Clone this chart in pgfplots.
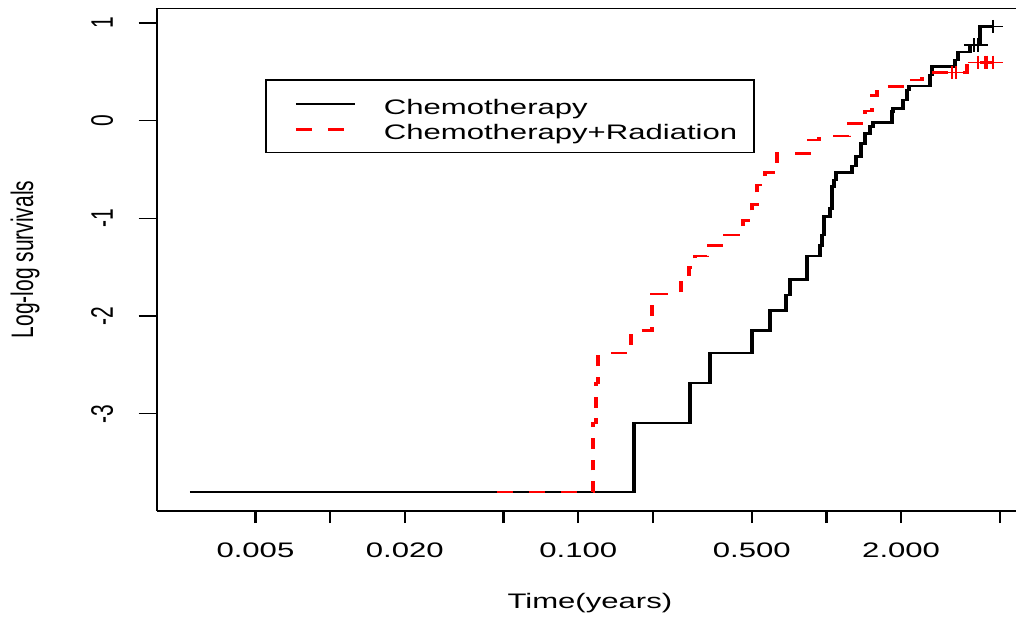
\documentclass[border=0pt]{standalone}
\usepackage{fontspec}
\setmainfont{Liberation Sans}
\usepackage{pgfplots}
\pgfplotsset{compat=1.18}
\newsavebox{\chartbox}

\begin{document}
\begin{lrbox}{\chartbox}%
\fontsize{10.5}{12.6}\selectfont
\begin{tikzpicture}
\begin{axis}[
    scale only axis, width=290.2pt, height=251.2pt,
    xmode=log, xmin=0.002004, xmax=5.807,
    ymin=-3.993, ymax=1.150,
    axis x line=box, axis y line*=left,
    y axis line style={-},
    axis line style={line width=0.75pt, black},
    tick pos=left, tick align=outside, major tick length=6.2pt,
    major tick style={line width=0.75pt, black},
    xminorticks=false,
    xtick={0.005,0.01,0.02,0.05,0.1,0.2,0.5,1,2,5},
    xticklabels={0.005,,0.020,,0.100,,0.500,,2.000,},
    ytick={-3,-2,-1,0,1},
    yticklabels={-3,-2,-1,0,1},
    xticklabel style={anchor=base}, xticklabel shift=16.95pt,
    yticklabel style={rotate=90, anchor=base}, yticklabel shift=8.67pt,
    xlabel={Time(years)}, ylabel={Log-log survivals},
    xlabel style={at={(axis description cs:0.504,-0.1937)}, anchor=base},
    ylabel style={at={(axis description cs:-0.1442,0.5)}, anchor=base},
    legend cell align=left,
    legend style={at={(axis description cs:0.1258,0.8587)}, anchor=north west,
        draw=black, line width=0.75pt, inner xsep=5.7pt, inner ysep=4.95pt,
        row sep=3.55pt, column sep=0pt,
        nodes={inner sep=0pt, anchor=base west}},
    legend image code/.code={%
        \path[draw=none, fill=none] (-4.4pt,0pt) (29.7pt,0pt);
        \draw[#1] (0pt,5pt) -- (19.9pt,5pt);},
]
% Chemotherapy
\addplot[const plot, black, line width=1.35pt,
    legend image code/.code={%
        \path[draw=none, fill=none] (-4.4pt,0pt) (29.7pt,12.05pt);
        \draw[black, line width=1.35pt] (0pt,5pt) -- (19.9pt,5pt);}] coordinates {
    (0.00272,-3.80) (0.1684,-3.094) (0.283,-2.685) (0.338,-2.378)
    (0.499,-2.147) (0.592,-1.941) (0.687,-1.784) (0.713,-1.623)
    (0.834,-1.385) (0.942,-1.275) (0.959,-1.170) (0.981,-0.983)
    (1.033,-0.897) (1.053,-0.676) (1.068,-0.607) (1.098,-0.530)
    (1.267,-0.464) (1.321,-0.368) (1.378,-0.231) (1.430,-0.129)
    (1.498,-0.061) (1.547,-0.020) (1.837,0.092) (1.862,0.127)
    (2.044,0.212) (2.111,0.314) (2.150,0.355) (2.614,0.468)
    (2.675,0.553) (3.296,0.621) (3.390,0.703) (3.789,0.775)
    (4.157,0.962) (4.69,0.962)
};
% Chemotherapy+Radiation
\addplot[const plot, red, line width=1.35pt, line cap=butt,
    dash pattern=on 5.4pt off 5.4pt] coordinates {
    (0.0470,-3.80) (0.1145,-3.094) (0.1178,-2.685) (0.1205,-2.378)
    (0.163,-2.147) (0.198,-1.774) (0.259,-1.64) (0.279,-1.50)
    (0.295,-1.385) (0.330,-1.275) (0.390,-1.170) (0.461,-1.02)
    (0.499,-0.86) (0.525,-0.66) (0.565,-0.53) (0.610,-0.46)
    (0.632,-0.334) (0.850,-0.198) (0.933,-0.157) (1.232,-0.03)
    (1.430,0.10) (1.526,0.26) (1.598,0.35) (2.150,0.417)
    (2.43,0.491) (3.684,0.596) (4.69,0.596)
};
% censored observations
\addplot[forget plot, only marks, mark=+, mark size=3.4pt, black,
    mark options={line width=0.7pt}] coordinates {
    (3.93,0.775) (4.07,0.775) (4.69,0.962)
};
\addplot[forget plot, only marks, mark=+, mark size=3.4pt, red,
    mark options={line width=0.7pt}] coordinates {
    (3.20,0.491) (3.34,0.491) (4.08,0.596) (4.35,0.596) (4.45,0.596) (4.69,0.596)
};
\legend{Chemotherapy, Chemotherapy+Radiation}
\coordinate (bl) at (rel axis cs:0,0);
\coordinate (tr) at (rel axis cs:1,1);
\end{axis}
\pgfresetboundingbox
\path[use as bounding box] ([xshift=-53pt,yshift=-52.65pt]bl) rectangle ([yshift=4.15pt]tr);
\end{tikzpicture}%
\end{lrbox}%
\scalebox{1.48}[1]{\usebox{\chartbox}}
\end{document}
